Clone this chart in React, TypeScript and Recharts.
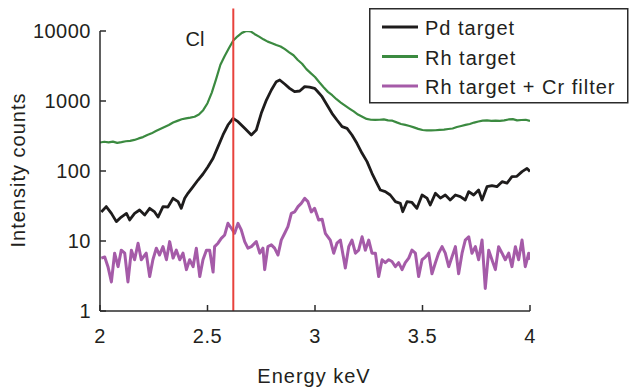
import React from 'react'
import { LineChart, Line, XAxis, YAxis, ReferenceLine, Legend } from 'recharts'

// energy (keV), intensity counts
const pdTarget: [number, number][] = [
  [2.006, 26], [2.029, 31], [2.053, 24.8], [2.076, 18.9], [2.099, 22], [2.123, 24.8], [2.138, 20],
  [2.161, 24.8], [2.184, 27.7], [2.208, 23.5], [2.231, 29.3], [2.254, 26], [2.27, 22], [2.293, 31],
  [2.316, 30.6], [2.34, 40.7], [2.363, 36.5], [2.378, 29.3], [2.394, 40.7], [2.409, 48], [2.433, 59.7],
  [2.456, 74.3], [2.479, 90.6], [2.502, 115], [2.526, 152], [2.549, 223], [2.572, 327], [2.595, 454],
  [2.619, 565], [2.642, 507], [2.673, 407], [2.704, 327], [2.727, 385], [2.75, 667], [2.774, 1033],
  [2.797, 1436], [2.82, 1890], [2.836, 1995], [2.859, 1750], [2.882, 1517], [2.905, 1358], [2.929, 1390],
  [2.952, 1604], [2.975, 1580], [2.998, 1517], [3.009, 1400], [3.033, 1153], [3.056, 877], [3.079, 667],
  [3.102, 535], [3.126, 430], [3.149, 407], [3.172, 327], [3.195, 249], [3.219, 179], [3.242, 136],
  [3.265, 92.7], [3.288, 66.7], [3.304, 53.5], [3.327, 50.7], [3.35, 45.4], [3.374, 36.5], [3.397, 34.5],
  [3.408, 26.2], [3.428, 36.5], [3.451, 35.5], [3.474, 29.3], [3.498, 45.4], [3.521, 41], [3.536, 32.7],
  [3.56, 48], [3.583, 41], [3.606, 45.4], [3.629, 38.5], [3.653, 45.4], [3.676, 43], [3.699, 38.5],
  [3.715, 50.7], [3.738, 45.4], [3.761, 53.5], [3.777, 38.5], [3.8, 59.7], [3.823, 62], [3.846, 59.7],
  [3.87, 70.5], [3.893, 67], [3.916, 83], [3.939, 84], [3.963, 98], [3.986, 109], [4.0, 98],
]

const rhTarget: [number, number][] = [
  [2.0, 255], [2.02, 262], [2.04, 256], [2.06, 263], [2.08, 252], [2.1, 258], [2.12, 266], [2.14, 270],
  [2.16, 278], [2.18, 292], [2.2, 305], [2.22, 326], [2.24, 345], [2.26, 372], [2.28, 398], [2.3, 425],
  [2.32, 455], [2.34, 492], [2.36, 520], [2.38, 548], [2.4, 565], [2.42, 578], [2.44, 595], [2.46, 640],
  [2.48, 740], [2.5, 930], [2.52, 1320], [2.54, 2050], [2.56, 3300], [2.58, 4400], [2.6, 5700],
  [2.62, 7300], [2.64, 8400], [2.66, 9400], [2.68, 10000], [2.7, 9900], [2.72, 9000], [2.74, 8300],
  [2.76, 7600], [2.78, 7050], [2.8, 6700], [2.82, 6300], [2.84, 6000], [2.86, 5500], [2.88, 4950],
  [2.9, 4500], [2.92, 3850], [2.94, 3400], [2.96, 2850], [2.98, 2500], [3.0, 2200], [3.02, 1850],
  [3.04, 1570], [3.06, 1350], [3.08, 1210], [3.1, 1060], [3.12, 950], [3.14, 860], [3.16, 780],
  [3.18, 710], [3.2, 640], [3.22, 595], [3.24, 555], [3.26, 540], [3.28, 538], [3.3, 540], [3.32, 545],
  [3.34, 530], [3.36, 524], [3.38, 495], [3.4, 470], [3.42, 455], [3.44, 440], [3.46, 420], [3.48, 400],
  [3.5, 385], [3.52, 380], [3.54, 380], [3.56, 382], [3.58, 388], [3.6, 390], [3.62, 398], [3.64, 405],
  [3.66, 425], [3.68, 440], [3.7, 455], [3.72, 470], [3.74, 492], [3.76, 510], [3.78, 525], [3.8, 528],
  [3.82, 520], [3.84, 525], [3.86, 520], [3.88, 528], [3.9, 545], [3.92, 550], [3.94, 528], [3.96, 535],
  [3.98, 540], [4.0, 518],
]

const rhCrFilter: [number, number][] = [
  [2.006, 5.7], [2.022, 5.9], [2.037, 4.3], [2.053, 2.6], [2.068, 6.7], [2.084, 4.3], [2.099, 7.4],
  [2.115, 6.7], [2.13, 2.6], [2.146, 7.4], [2.161, 5.4], [2.177, 9.3], [2.192, 5.4], [2.215, 6.7],
  [2.231, 3.1], [2.246, 5.4], [2.262, 7.9], [2.277, 6.3], [2.293, 8.3], [2.309, 5.4], [2.324, 9.8],
  [2.34, 5.7], [2.355, 7.4], [2.371, 5.4], [2.386, 6.7], [2.402, 3.9], [2.417, 5.4], [2.433, 4.3],
  [2.448, 7.9], [2.464, 3.1], [2.479, 5.4], [2.495, 7.4], [2.51, 7.4], [2.526, 3.6], [2.533, 8.3],
  [2.549, 9.3], [2.564, 10.9], [2.58, 12.2], [2.595, 17.9], [2.611, 15.2], [2.626, 12.9], [2.642, 17.9],
  [2.657, 14.4], [2.673, 9.8], [2.688, 7.9], [2.704, 8.3], [2.727, 9.8], [2.743, 6.7], [2.758, 7.9],
  [2.766, 3.9], [2.781, 8.3], [2.797, 8.8], [2.812, 7.9], [2.828, 6.3], [2.843, 10.3], [2.859, 12.9],
  [2.874, 16], [2.89, 24.8], [2.905, 26], [2.921, 31], [2.936, 34.5], [2.952, 40.7], [2.967, 36.5],
  [2.983, 26], [2.998, 29.3], [3.017, 20], [3.033, 20.5], [3.048, 12.9], [3.071, 10.3], [3.087, 6.7],
  [3.102, 9.3], [3.118, 10.3], [3.133, 5.7], [3.141, 4.1], [3.157, 8.3], [3.172, 10.3], [3.188, 6.7],
  [3.203, 7.4], [3.219, 11.5], [3.234, 7.4], [3.25, 10.3], [3.265, 6.7], [3.281, 6.7], [3.296, 3.1],
  [3.312, 5.4], [3.327, 4.9], [3.343, 5.4], [3.358, 5.1], [3.374, 4.3], [3.389, 4.9], [3.405, 3.9],
  [3.42, 4.9], [3.436, 5.7], [3.451, 7.4], [3.467, 6.7], [3.482, 3.1], [3.498, 5.4], [3.513, 5.9],
  [3.529, 6.7], [3.544, 3.4], [3.56, 4.9], [3.575, 6.7], [3.591, 8.3], [3.606, 6.7], [3.622, 4.3],
  [3.637, 5.9], [3.653, 8.3], [3.668, 3.4], [3.684, 6.7], [3.699, 10.3], [3.715, 11.5], [3.73, 6.7],
  [3.746, 8.3], [3.761, 5.4], [3.777, 10.3], [3.792, 2.1], [3.808, 7.4], [3.823, 5.4], [3.839, 3.9],
  [3.854, 8.3], [3.87, 6.7], [3.885, 5.4], [3.901, 6.7], [3.916, 4.3], [3.932, 8.3], [3.947, 5.4],
  [3.963, 10.3], [3.978, 4.3], [3.994, 6.7], [4.0, 5.4],
]

const xTicks = [2, 2.5, 3, 3.5, 4]
const yTicks = [1, 10, 100, 1000, 10000]
const clEnergy = 2.62

const SERIES = [
  { name: 'Pd target', color: '#1e1c1c', width: 2.8, points: pdTarget },
  { name: 'Rh target', color: '#3b8a40', width: 2.2, points: rhTarget },
  { name: 'Rh target + Cr filter', color: '#a55ba8', width: 3, points: rhCrFilter },
]

const FONT = '"Liberation Sans", Arial, sans-serif'
const INK = '#231f20'
const AXIS = '#2b2b2b'
const PLOT_LEFT = 100
const PLOT_BOTTOM = 311

const toRows = (pts: [number, number][]) => pts.map(([energy, counts]) => ({ energy, counts }))

function YTick({ y, payload }: any) {
  return (
    <g>
      <line x1={PLOT_LEFT} x2={PLOT_LEFT + 6} y1={y} y2={y} stroke={AXIS} strokeWidth={1.5} />
      <text x={91} y={y + 7} textAnchor="end" fontSize={20} fontFamily={FONT} fill={INK} letterSpacing={0.5}>
        {payload.value}
      </text>
    </g>
  )
}

function XTick({ x, payload }: any) {
  return (
    <g>
      <line x1={x} x2={x} y1={PLOT_BOTTOM} y2={PLOT_BOTTOM - 6} stroke={AXIS} strokeWidth={1.5} />
      <text x={x} y={342.5} textAnchor="middle" fontSize={20} fontFamily={FONT} fill={INK} letterSpacing={0.5}>
        {payload.value}
      </text>
    </g>
  )
}

function LegendBox() {
  return (
    <svg width={260} height={96} style={{ display: 'block' }}>
      <rect x={0.75} y={0.75} width={258} height={94} fill="#fff" stroke={AXIS} strokeWidth={1.5} />
      {SERIES.map((s, i) => {
        const cy = 20 + i * 29.5
        return (
          <g key={s.name}>
            <line x1={13} x2={49} y1={cy - 1} y2={cy - 1} stroke={s.color} strokeWidth={3} />
            <text x={56} y={cy + 7} fontSize={20} fontFamily={FONT} fill={INK} letterSpacing={1}>
              {s.name}
            </text>
          </g>
        )
      })}
    </svg>
  )
}

export default function App() {
  return (
    <div style={{ position: 'absolute', left: 0, top: 0, width: 630, height: 389, background: '#fff' }}>
      <LineChart width={630} height={389} margin={{ top: 31, right: 100, bottom: 0, left: 0 }}>
        <XAxis
          type="number"
          dataKey="energy"
          domain={[2, 4]}
          ticks={xTicks}
          allowDataOverflow
          height={78}
          stroke={AXIS}
          strokeWidth={1.5}
          tickLine={false}
          tick={<XTick />}
          label={{
            content: () => (
              <text x={314} y={383} textAnchor="middle" fontSize={20} fontFamily={FONT} fill={INK} letterSpacing={1}>
                Energy keV
              </text>
            ),
          }}
        />
        <YAxis
          type="number"
          scale="log"
          domain={[1, 10000]}
          ticks={yTicks}
          allowDataOverflow
          width={100}
          stroke={AXIS}
          strokeWidth={1.5}
          tickLine={false}
          tick={<YTick />}
          label={{
            content: () => (
              <text
                x={25}
                y={170}
                transform="rotate(-90 25 170)"
                textAnchor="middle"
                fontSize={20}
                fontFamily={FONT}
                fill={INK}
                letterSpacing={1}
              >
                Intensity counts
              </text>
            ),
          }}
        />
        {SERIES.map(s => (
          <Line
            key={s.name}
            data={toRows(s.points)}
            dataKey="counts"
            name={s.name}
            type="linear"
            stroke={s.color}
            strokeWidth={s.width}
            strokeLinejoin="round"
            dot={false}
            activeDot={false}
            isAnimationActive={false}
          />
        ))}
        <ReferenceLine
          segment={[{ x: clEnergy, y: 1 }, { x: clEnergy, y: 21000 }]}
          ifOverflow="visible"
          stroke="#e8423c"
          strokeWidth={2}
          label={{
            content: () => (
              <text x={195} y={46} textAnchor="middle" fontSize={20} fontFamily={FONT} fill={INK}>
                Cl
              </text>
            ),
          }}
        />
        <Legend
          layout="vertical"
          align="center"
          verticalAlign="middle"
          content={<LegendBox />}
          wrapperStyle={{ position: 'absolute', left: 369, top: 8, width: 260, height: 96 }}
        />
      </LineChart>
    </div>
  )
}
